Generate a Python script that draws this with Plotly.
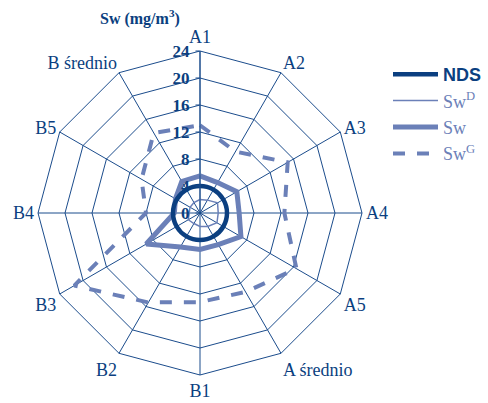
import plotly.graph_objects as go

categories = ["A1", "A2", "A3", "A4", "A5", "A średnio",
              "B1", "B2", "B3", "B4", "B5", "B średnio"]

nds = [4, 4, 4, 4, 4, 4, 4, 4, 4, 4, 4, 4]
sw_d = [2.0, 2.2, 3.0, 2.7, 2.9, 2.3, 2.0, 1.8, 2.0, 1.6, 1.7, 1.8]
sw = [5.5, 5.2, 6.3, 5.8, 7.0, 5.4, 5.4, 5.8, 9.2, 3.8, 4.2, 5.4]
sw_g = [13.0, 10.5, 15.0, 12.5, 16.5, 13.5, 13.2, 15.3, 21.5, 8.0, 10.0, 13.7]

radial_ticks = [0, 4, 8, 12, 16, 20, 24]

NAVY = "#0b3f80"
GRID = "#1b4c8c"
LIGHT = "#6b80b8"
SERIF = "Liberation Serif"
SANS = "Liberation Sans"


def closed(values):
    return values + values[:1]


theta = closed(categories)

fig = go.Figure()

fig.add_trace(go.Scatterpolar(
    r=closed(sw_d), theta=theta, mode="lines",
    line=dict(color=LIGHT, width=1.5), legendrank=2,
    name=f"<span style='color:{LIGHT}'>Sw<sup>D</sup></span>",
))
fig.add_trace(go.Scatterpolar(
    r=closed(sw), theta=theta, mode="lines",
    line=dict(color=LIGHT, width=5), legendrank=3,
    name=f"<span style='color:{LIGHT}'>Sw</span>",
))
fig.add_trace(go.Scatterpolar(
    r=closed(sw_g), theta=theta, mode="lines",
    line=dict(color=LIGHT, width=4, dash="dash"), legendrank=4,
    name=f"<span style='color:{LIGHT}'>Sw<sup>G</sup></span>",
))
# NDS limit drawn last so it sits above the Sw polygons
fig.add_trace(go.Scatterpolar(
    r=closed(nds), theta=theta, mode="lines",
    line=dict(color=NAVY, width=4.5, shape="spline", smoothing=1.3),
    legendrank=1,
    name=f"<b style='font-family:{SANS};color:{NAVY}'>NDS</b>",
))

W, H = 488, 403
cx, cy, R = 200, 213, 162

fig.update_layout(
    width=W, height=H,
    margin=dict(l=0, r=0, t=0, b=0),
    paper_bgcolor="white",
    plot_bgcolor="white",
    polar=dict(
        domain=dict(x=[(cx - R) / W, (cx + R) / W],
                    y=[(H - cy - R) / H, (H - cy + R) / H]),
        bgcolor="white",
        gridshape="linear",
        angularaxis=dict(
            categoryorder="array", categoryarray=categories,
            direction="clockwise", rotation=90,
            showgrid=True, gridcolor=GRID, gridwidth=1,
            showline=True, linecolor=GRID, linewidth=1,
            ticks="",
            tickfont=dict(family=SERIF, size=18, color=NAVY),
        ),
        radialaxis=dict(
            range=[0, 24], tickvals=radial_ticks,
            angle=90, side="counterclockwise", tickangle=90,
            showgrid=True, gridcolor=GRID, gridwidth=1,
            showline=True, linecolor=GRID, linewidth=1,
            ticks="outside", ticklen=4, tickcolor=GRID,
            tickfont=dict(family=SERIF, size=17, color=NAVY, weight="bold"),
        ),
    ),
    legend=dict(
        x=388 / W, y=1 - 56 / H, xanchor="left", yanchor="top",
        itemwidth=45,
        font=dict(family=SERIF, size=18, color=LIGHT),
        bgcolor="rgba(0,0,0,0)",
    ),
    showlegend=True,
    annotations=[dict(
        text="<b>Sw (mg/m<sup>3</sup>)</b>",
        xref="paper", yref="paper", x=140 / W, y=1 - 18 / H,
        xanchor="center", yanchor="middle", showarrow=False,
        font=dict(family=SERIF, size=16, color=NAVY),
    )],
)

fig.write_html("out.html")
